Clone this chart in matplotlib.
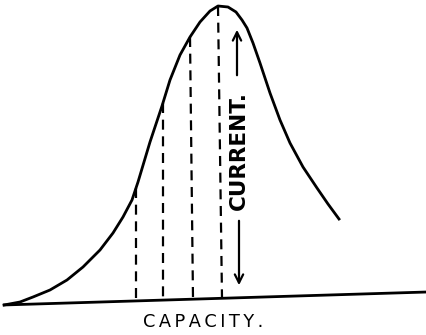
"""Capacity / current resonance sketch (scanned line drawing), redrawn in matplotlib."""

import matplotlib

matplotlib.use("Agg")
import matplotlib.pyplot as plt  # noqa: E402

# drawing coordinates: x = capacity (px from left), y = px from top (axis inverted)
capacity = [4, 20, 33, 50, 67, 83, 100, 113, 123, 132, 138, 144, 150, 156, 162,
            170, 180, 190, 200, 210, 218, 228, 236, 242, 247, 253, 260, 270,
            280, 290, 303, 317, 328, 339]
current = [305, 302, 297, 290, 280, 267, 250, 233, 217, 200, 182, 162, 142, 124, 106,
           80, 55, 37, 22, 11, 6, 7, 12, 20, 28, 43, 63, 93,
           120, 143, 167, 188, 204, 219]

# the scanned base line leans a little
base_x = [3, 427]
base_y = [305, 292]

# dashed ordinates: top on the curve, foot on the base line
ord_x_top = [136, 163, 190, 218]
ord_x_foot = [136, 163, 193, 222]
ord_y_top = [188, 103, 37, 6]
ord_y_foot = [301, 300, 299, 298]

INK = "#000000"

fig = plt.figure(figsize=(4.27, 3.35), dpi=100)
ax = fig.add_axes([0, 0, 1, 1])
ax.set_xlim(0, 427)
ax.set_ylim(335, 0)
ax.axis("off")

ax.plot(base_x, base_y, color=INK, lw=2.0, solid_capstyle="butt")
ax.plot(capacity, current, color=INK, lw=2.0, solid_joinstyle="round")

for xt, xf, yt, yf in zip(ord_x_top, ord_x_foot, ord_y_top, ord_y_foot):
    ax.plot([xt, xf], [yt, yf], color=INK, lw=1.6, dashes=(4.5, 3.0))

# current arrows either side of the label
arrow = dict(arrowstyle="->,head_length=0.6,head_width=0.3", color=INK, lw=1.6)
ax.annotate("", xy=(237, 27), xytext=(237, 78), arrowprops=arrow)
ax.annotate("", xy=(239, 288), xytext=(239, 218), arrowprops=arrow)

ax.text(239, 150, "CURRENT.", rotation=90, ha="center", va="center",
        fontsize=15.5, fontweight="bold", color=INK)
ax.text(203, 322, "C\u2009A\u2009P\u2009A\u2009C\u2009I\u2009T\u2009Y\u2009.",
        ha="center", va="center", fontsize=12.8, color=INK)

fig.savefig("out.png", dpi=100, facecolor="white")
